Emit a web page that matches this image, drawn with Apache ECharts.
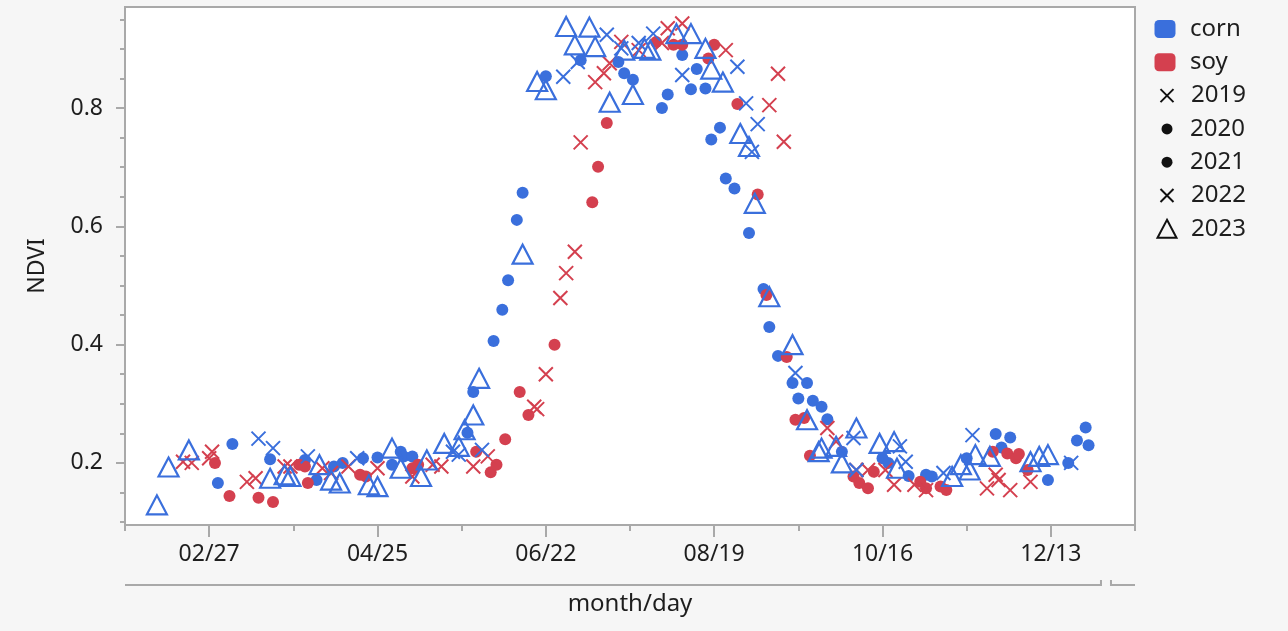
<!DOCTYPE html>
<html>
<head>
<meta charset="utf-8">
<script src="https://cdn.jsdelivr.net/npm/echarts@6/dist/echarts.min.js"></script>
<style>
  html, body { margin: 0; background: #f6f6f6; }
  #main { width: 1288px; height: 631px; }
</style>
</head>
<body>
<div id="main"></div>
<script>
// day of year (2020, leap year: 1 = Jan 1), NDVI
const cornTri = [
  [40, 0.129], [44, 0.193], [51, 0.222], [79, 0.174], [84, 0.18], [86, 0.177],
  [96, 0.197], [100, 0.171], [103, 0.166], [113, 0.163], [116, 0.16], [121, 0.225],
  [124, 0.191], [131, 0.177], [133, 0.205], [139, 0.233], [144, 0.228], [146, 0.256],
  [149, 0.281], [151, 0.343], [166, 0.553],
  [171, 0.845], [174, 0.831], [181, 0.938], [189, 0.937], [184, 0.907], [191, 0.904],
  [196, 0.81], [201, 0.898], [204, 0.823], [208, 0.901], [210, 0.898], [219, 0.926],
  [224, 0.926], [229, 0.901], [231, 0.866], [235, 0.844], [241, 0.757], [244, 0.735],
  [246, 0.639], [251, 0.481], [259, 0.4], [264, 0.273], [268, 0.219],
  [269, 0.225], [274, 0.228], [281, 0.259], [276, 0.2], [289, 0.233], [294, 0.236],
  [295, 0.191], [314, 0.177], [317, 0.197], [320, 0.188], [322, 0.214], [327, 0.211],
  [341, 0.202], [344, 0.211], [347, 0.214]
];
const cornDot = [
  [66, 0.232], [61, 0.166], [79, 0.206], [91, 0.205], [95, 0.171], [101, 0.194],
  [104, 0.2], [111, 0.208], [116, 0.209], [124, 0.219], [121, 0.197], [125, 0.211],
  [128, 0.211], [147, 0.251], [149, 0.32],
  [156, 0.406], [159, 0.459], [161, 0.509], [164, 0.611], [166, 0.657],
  [174, 0.854], [186, 0.881], [199, 0.878], [201, 0.859], [204, 0.848], [214, 0.8],
  [216, 0.823], [221, 0.89], [224, 0.832], [226, 0.866], [229, 0.833], [231, 0.747],
  [234, 0.767], [236, 0.681], [239, 0.664], [244, 0.589], [249, 0.494], [251, 0.43],
  [254, 0.381], [259, 0.335], [264, 0.335], [261, 0.309], [266, 0.305], [269, 0.295],
  [271, 0.274],
  [276, 0.219], [290, 0.208], [292, 0.2], [299, 0.178], [305, 0.18], [307, 0.177],
  [319, 0.208], [329, 0.249], [334, 0.243], [331, 0.226], [347, 0.171], [354, 0.2],
  [357, 0.238], [360, 0.26], [361, 0.23]
];
const cornCross = [
  [75, 0.241], [80, 0.225], [92, 0.211], [109, 0.208], [142, 0.219], [144, 0.214],
  [152, 0.222], [180, 0.853], [185, 0.878], [195, 0.924], [200, 0.901], [206, 0.91],
  [211, 0.926], [221, 0.856], [240, 0.87], [243, 0.808], [247, 0.773], [245, 0.726],
  [260, 0.352], [280, 0.242], [296, 0.228], [298, 0.202], [281, 0.188], [311, 0.183],
  [321, 0.247], [355, 0.2]
];
const soyDot = [
  [60, 0.2], [65, 0.144], [75, 0.141], [80, 0.134], [89, 0.197], [91, 0.194],
  [92, 0.166], [110, 0.18], [112, 0.177], [128, 0.191], [130, 0.197], [150, 0.219],
  [155, 0.184], [157, 0.197], [160, 0.24], [165, 0.32], [168, 0.281], [177, 0.4],
  [190, 0.641], [192, 0.701], [195, 0.775], [212, 0.912], [218, 0.907], [221, 0.907],
  [232, 0.907], [230, 0.884], [240, 0.807], [247, 0.654], [250, 0.484], [257, 0.379],
  [260, 0.273], [263, 0.276], [265, 0.212], [280, 0.177], [282, 0.166], [285, 0.157],
  [287, 0.185], [303, 0.168], [305, 0.157], [310, 0.16], [312, 0.154], [328, 0.219],
  [333, 0.216], [336, 0.208], [337, 0.215], [340, 0.188]
];
const soyCross = [
  [49, 0.202], [52, 0.2], [58, 0.208], [59, 0.219], [71, 0.168], [74, 0.174],
  [84, 0.194], [86, 0.194], [97, 0.191], [100, 0.183], [106, 0.194], [116, 0.191],
  [128, 0.177], [135, 0.197], [138, 0.194], [149, 0.194], [154, 0.211], [170, 0.295],
  [171, 0.291], [174, 0.35], [179, 0.479], [181, 0.521], [184, 0.557], [186, 0.742],
  [191, 0.844], [194, 0.859], [196, 0.876], [200, 0.912], [206, 0.898], [214, 0.91],
  [216, 0.935], [221, 0.943], [236, 0.898], [254, 0.858], [251, 0.805], [256, 0.743],
  [271, 0.259], [274, 0.236], [281, 0.188], [285, 0.188], [291, 0.188], [294, 0.163],
  [301, 0.163], [305, 0.154], [326, 0.157], [329, 0.18], [330, 0.171], [334, 0.154],
  [341, 0.168]
];

const xMajor = [58, 116, 174, 232, 290, 348];
const xMinor = [29, 87, 145, 203, 261, 319, 377];
const yMajor = [0.2, 0.4, 0.6, 0.8];
const yMinor = [0.1, 0.15, 0.25, 0.3, 0.35, 0.45, 0.5, 0.55, 0.65, 0.7, 0.75, 0.85, 0.9, 0.95];

const BLUE = "#3a6fdc";
const RED = "#d4404f";
const AXIS = "#a9a9a9";
const TEXT = "#1e1e1e";
const FONT = "Noto Sans";
const CROSS = "path://M0,0L10,10M10,0L0,10";

function dayLabel(v) {
  const d = new Date(2020, 0, v);
  return String(d.getMonth() + 1).padStart(2, "0") + "/" + String(d.getDate()).padStart(2, "0");
}

function marks(name, data, color, kind) {
  const s = { name: name, type: "scatter", data: data, animation: false, silent: true };
  if (kind === "dot") {
    s.symbol = "circle";
    s.symbolSize = 12;
    s.itemStyle = { color: color, opacity: 1 };
    s.z = 2;
  } else if (kind === "cross") {
    s.symbol = CROSS;
    s.symbolSize = 14;
    s.itemStyle = { color: "rgba(0,0,0,0)", borderColor: color, borderWidth: 2, opacity: 1 };
    s.z = 3;
  } else {
    s.symbol = "triangle";
    s.symbolSize = [20, 19];
    s.itemStyle = { color: "rgba(0,0,0,0)", borderColor: color, borderWidth: 2.2, opacity: 1 };
    s.z = 4;
  }
  return s;
}

// legend rows: one small legend each so that icons can differ in size
const legendRows = [
  { name: "corn", icon: "roundRect", w: 21, h: 18, cx: 1165, style: { color: BLUE, opacity: 1 } },
  { name: "soy", icon: "roundRect", w: 21, h: 18, cx: 1165, style: { color: RED, opacity: 1 } },
  { name: "2019", icon: CROSS, w: 13, h: 13, cx: 1166, style: { color: "rgba(0,0,0,0)", borderColor: "#111", borderWidth: 2, opacity: 1 } },
  { name: "2020", icon: "circle", w: 11, h: 11, cx: 1167, style: { color: "#111", opacity: 1 } },
  { name: "2021", icon: "circle", w: 11, h: 11, cx: 1167, style: { color: "#111", opacity: 1 } },
  { name: "2022", icon: CROSS, w: 13, h: 13, cx: 1166, style: { color: "rgba(0,0,0,0)", borderColor: "#111", borderWidth: 2, opacity: 1 } },
  { name: "2023", icon: "triangle", w: 19, h: 18, cx: 1166, style: { color: "rgba(0,0,0,0)", borderColor: "#111", borderWidth: 2, opacity: 1 } }
];

const chart = echarts.init(document.getElementById("main"));

const series = [
  marks("corn 2020/2021", cornDot, BLUE, "dot"),
  marks("soy 2020/2021", soyDot, RED, "dot"),
  marks("soy 2019/2022", soyCross, RED, "cross"),
  marks("corn 2019/2022", cornCross, BLUE, "cross"),
  marks("corn 2023", cornTri, BLUE, "tri")
];
legendRows.forEach(function (r) {
  series.push({ name: r.name, type: "scatter", data: [], itemStyle: r.style });
});

chart.setOption({
  backgroundColor: "#f6f6f6",
  animation: false,
  textStyle: { fontFamily: FONT },
  grid: {
    left: 125, right: 153, top: 7, bottom: 106,
    show: true, backgroundColor: "#fff", borderColor: AXIS, borderWidth: 2
  },
  legend: legendRows.map(function (r, i) {
    const left = r.cx - r.w / 2;
    return {
      data: [{ name: r.name, icon: r.icon, itemStyle: r.style }],
      left: left,
      top: 29 + i * 33.3 - 13,
      padding: 0,
      itemWidth: r.w,
      itemHeight: r.h,
      selectedMode: false,
      textStyle: { fontSize: 24, color: TEXT, fontFamily: FONT, lineHeight: 26, padding: [0, 0, 0, 1190 - left - r.w - 5] }
    };
  }),
  xAxis: [
    {
      type: "value", min: 29, max: 377,
      name: "month/day", nameLocation: "middle", nameGap: 67,
      nameTextStyle: { fontSize: 24, color: TEXT, fontFamily: FONT },
      axisLine: { show: false },
      splitLine: { show: false },
      axisTick: { show: true, customValues: xMajor, length: 12, lineStyle: { color: AXIS, width: 2 } },
      axisLabel: { customValues: xMajor, formatter: dayLabel, fontSize: 23, color: TEXT, margin: 18, fontFamily: FONT }
    },
    {
      type: "value", min: 29, max: 377, position: "bottom",
      axisLine: { show: false },
      splitLine: { show: false },
      axisTick: { show: true, customValues: xMinor, length: 6, lineStyle: { color: AXIS, width: 2 } },
      axisLabel: { show: false }
    }
  ],
  yAxis: [
    {
      type: "value", min: 0.095, max: 0.971,
      name: "NDVI", nameLocation: "middle", nameGap: 76,
      nameTextStyle: { fontSize: 23, color: TEXT, fontFamily: FONT },
      axisLine: { show: false },
      splitLine: { show: false },
      axisTick: { show: true, customValues: yMajor, length: 9, lineStyle: { color: AXIS, width: 2 } },
      axisLabel: { customValues: yMajor, formatter: function (v) { return v.toFixed(1); }, fontSize: 23, color: TEXT, margin: 22, fontFamily: FONT }
    },
    {
      type: "value", min: 0.095, max: 0.971, position: "left",
      axisLine: { show: false },
      splitLine: { show: false },
      axisTick: { show: true, customValues: yMinor, length: 5, lineStyle: { color: AXIS, width: 2 } },
      axisLabel: { show: false }
    }
  ],
  series: series
});

// year bracket under the tick labels, broken at Jan 1 of the next year
const px = function (d) { return chart.convertToPixel({ xAxisIndex: 0 }, d); };
const yB = 585;
const xBreak = px(367);
chart.setOption({
  graphic: [
    { type: "polyline", shape: { points: [[px(29), yB], [xBreak - 5, yB], [xBreak - 5, yB - 5]] }, style: { stroke: AXIS, lineWidth: 2, fill: null } },
    { type: "polyline", shape: { points: [[xBreak + 5, yB - 5], [xBreak + 5, yB], [px(377), yB]] }, style: { stroke: AXIS, lineWidth: 2, fill: null } }
  ]
});
</script>
</body>
</html>
